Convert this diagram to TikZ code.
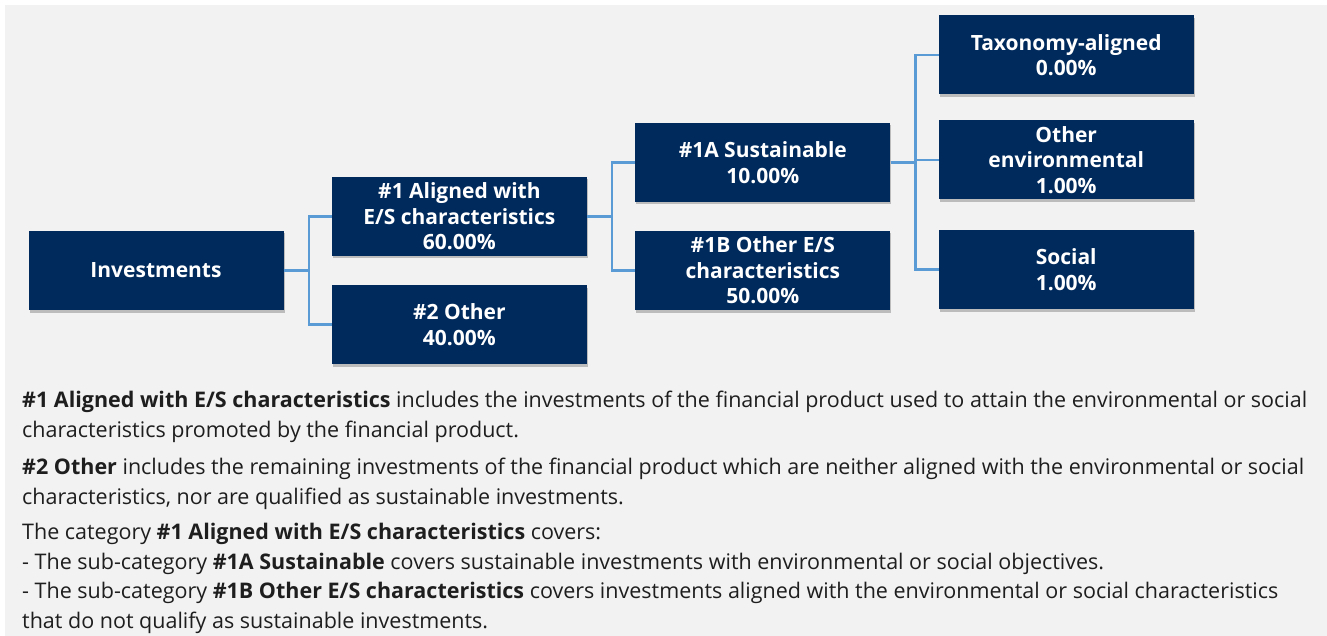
\documentclass[tikz,border=0pt]{standalone}
\usepackage{fontspec}
\setmainfont{Open Sans}
\usepackage{tikz}
\usetikzlibrary{positioning,
    shadows}

\definecolor{navy}{HTML}{002A5C}
\definecolor{linkblue}{HTML}{5B9BD5}
\definecolor{bggray}{HTML}{F2F2F2}
\definecolor{inkgray}{HTML}{1E1E1E}

\begin{document}
\begin{tikzpicture}[x=1pt, y=1pt,
                  node distance = 48pt,
                  box/.style = {fill=navy, text=white, minimum width=255pt, minimum height=79pt,
                                inner sep=0pt, align=center,
                                font=\bfseries\fontsize{21}{25.5}\selectfont,
                                drop shadow={shadow xshift=1pt, shadow yshift=-2.5pt, fill=black, opacity=0.22}},
                  conn/.style = {draw=linkblue, line width=2.2pt},
                  note/.style = {anchor=base west, inner sep=0pt, text=inkgray,
                                 font=\fontsize{21.5}{29.5}\selectfont}
                  ]
\useasboundingbox (0,0) rectangle (1327,-636);
\fill[white] (0,0) rectangle (1327,-636);
\fill[bggray] (5,-5) rectangle (1327,-636);
% tree
\node (inv) [box] at (156,-270.5) {Investments};
\node (al)  [box, right=of inv, yshift=54pt]  {\#1 Aligned with\\E/S characteristics\\60.00\%};
\node (ot)  [box, right=of inv, yshift=-54pt] {\#2 Other\\40.00\%};
\node (sus) [box, right=of al, yshift=54pt]   {\#1A Sustainable\\10.00\%};
\node (oes) [box, right=of al, yshift=-54pt]  {\#1B Other E/S\\characteristics\\50.00\%};
\node (tax) [box, right=of sus, yshift=107.5pt] {Taxonomy-aligned\\0.00\%};
\node (env) [box, right=of sus, yshift=2.5pt]   {Other\\environmental\\1.00\%};
\node (soc) [box, right=of sus, yshift=-107pt]  {Social\\1.00\%};
\foreach \a/\b in {inv/al, inv/ot, al/sus, al/oes, sus/tax, sus/env, sus/soc}
    \draw[conn] (\a.east) -- ++(25,0) |- (\b.west);
% notes
\foreach \y/\txt [count=\j] in {
    407/{\textbf{\#1 Aligned with E/S characteristics} includes the investments of the financial product used to attain the environmental or social},
    437/{characteristics promoted by the financial product.},
    474/{\textbf{\#2 Other} includes the remaining investments of the financial product which are neither aligned with the environmental or social},
    504/{characteristics, nor are qualified as sustainable investments.},
    539/{The category \textbf{\#1 Aligned with E/S characteristics} covers:},
    569/{- The sub-category \textbf{\#1A Sustainable} covers sustainable investments with environmental or social objectives.},
    598/{- The sub-category \textbf{\#1B Other E/S characteristics} covers investments aligned with the environmental or social characteristics},
    628/{that do not qualify as sustainable investments.}}
    \node (l\j) [note] at (22,-\y) {\txt};
\end{tikzpicture}
\end{document}
